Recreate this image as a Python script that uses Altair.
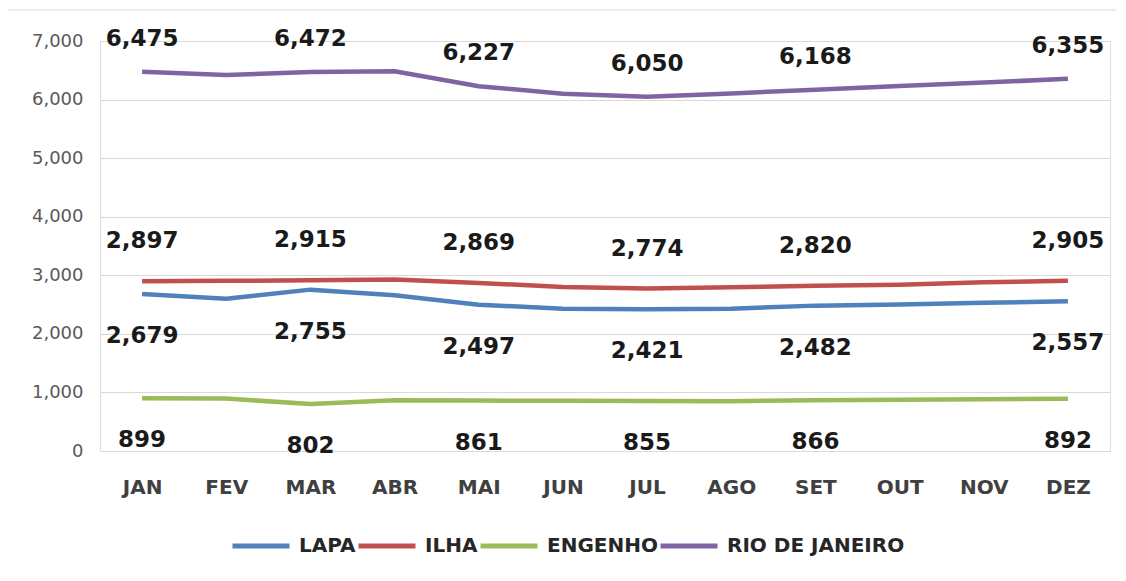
import altair as alt
import pandas as pd

months = ["JAN", "FEV", "MAR", "ABR", "MAI", "JUN", "JUL", "AGO", "SET", "OUT", "NOV", "DEZ"]
series_names = ["LAPA", "ILHA", "ENGENHO", "RIO DE JANEIRO"]
lapa = [2679, 2600, 2755, 2660, 2497, 2430, 2421, 2430, 2482, 2500, 2530, 2557]
ilha = [2897, 2905, 2915, 2930, 2869, 2800, 2774, 2795, 2820, 2840, 2880, 2905]
engenho = [899, 895, 802, 865, 861, 858, 855, 850, 866, 875, 885, 892]
rio = [6475, 6420, 6472, 6485, 6227, 6100, 6050, 6105, 6168, 6230, 6290, 6355]
labeled_months = ["JAN", "MAR", "MAI", "JUL", "SET", "DEZ"]
colors = ["#4F81BD", "#C0504D", "#9BBB59", "#8064A2"]

rows = []
for name, vals in zip(series_names, [lapa, ilha, engenho, rio]):
    for m, v in zip(months, vals):
        rows.append({"mes": m, "serie": name, "valor": v, "rotulo": m in labeled_months})
df = pd.DataFrame(rows)

W, H = 1010, 410
base = alt.Chart(df).encode(
    x=alt.X("mes:N", sort=months, scale=alt.Scale(type="point", padding=0.5),
            axis=alt.Axis(title=None, domain=False, ticks=False, labelAngle=0,
                          labelFont="DejaVu Sans", labelFontSize=20, labelFontWeight="bold",
                          labelColor="#404040", labelPadding=26)),
    y=alt.Y("valor:Q", scale=alt.Scale(domain=[0, 7000], nice=False),
            axis=alt.Axis(title=None, domain=False, ticks=False, values=list(range(0, 7001, 1000)),
                          format=",.0f", labelFont="DejaVu Sans", labelFontSize=18,
                          labelColor="#595959", labelPadding=17, gridColor="#d9d9d9",
                          gridWidth=1)),
)

lines = base.mark_line(strokeWidth=4.5, strokeJoin="round").encode(
    color=alt.Color("serie:N", sort=series_names,
                    scale=alt.Scale(domain=series_names, range=colors),
                    legend=alt.Legend(title=None, orient="none", direction="horizontal",
                                      legendX=130, legendY=474, symbolType="stroke",
                                      symbolSize=3249, symbolStrokeWidth=5,
                                      labelFont="DejaVu Sans", labelFontSize=20,
                                      labelFontWeight="bold", labelColor="#262626",
                                      labelLimit=400, labelOffset=7, columnPadding=-8,
                                      padding=0))
)

text_style = dict(font="DejaVu Sans", fontSize=23, fontWeight="bold", color="#1a1a1a")
lab = base.transform_filter(alt.datum.rotulo == True)
t_rio = lab.transform_filter(alt.datum.serie == "RIO DE JANEIRO").mark_text(dy=-33, **text_style).encode(
    text=alt.Text("valor:Q", format=","))
t_ilha = lab.transform_filter(alt.datum.serie == "ILHA").mark_text(dy=-40, **text_style).encode(
    text=alt.Text("valor:Q", format=","))
t_low = lab.transform_filter((alt.datum.serie == "LAPA") | (alt.datum.serie == "ENGENHO")).mark_text(
    dy=42, **text_style).encode(text=alt.Text("valor:Q", format=","))

border = alt.Chart(pd.DataFrame({"k": [0]})).mark_rect(
    fillOpacity=0, stroke="#d9d9d9", strokeWidth=1).encode(
    x=alt.value(-93), x2=alt.value(1018), y=alt.value(-31), y2=alt.value(560))

chart = alt.layer(border, lines, t_rio, t_ilha, t_low).properties(
    width=W, height=H,
    autosize=alt.AutoSizeParams(type="none"),
    padding={"left": 92, "top": 33, "right": 6, "bottom": 119},
).configure_view(stroke=None).configure(background="white")

chart.save("out.html", embed_options={"renderer": "svg", "actions": False})
